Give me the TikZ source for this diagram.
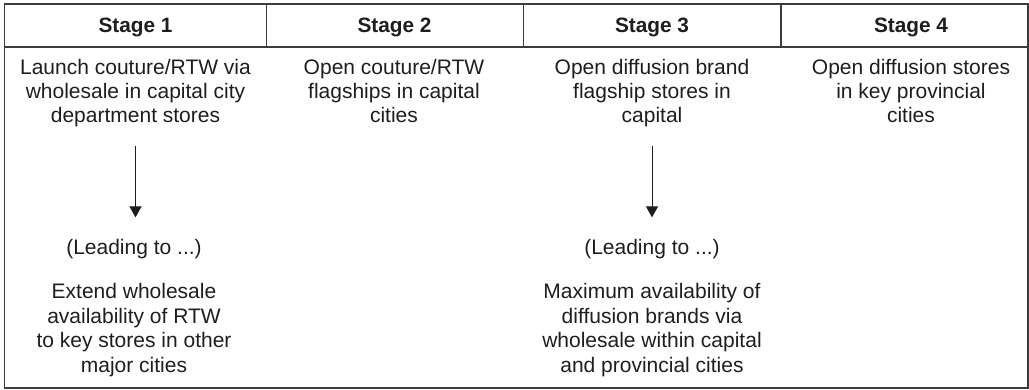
\documentclass[tikz,border=0pt]{standalone}
\usepackage{fontspec}
\setmainfont{Liberation Sans}
\usetikzlibrary{arrows.meta}
\definecolor{ink}{HTML}{1E1E1E}
\definecolor{rulegray}{HTML}{3C3C3C}
\begin{document}
\begin{tikzpicture}[x=0.5pt,y=-0.5pt,
  rule/.style={draw=rulegray,line width=0.65pt},
  head/.style={font=\fontsize{10.4}{12}\selectfont\bfseries,text=ink,anchor=base,inner sep=0pt},
  % multi-line nodes: the base anchor sits on the last line's baseline
  body/.style={font=\fontsize{10.5}{12.2}\selectfont,text=ink,align=center,anchor=base,inner sep=0pt},
  flow/.style={draw=ink,line width=0.5pt,-{Triangle[width=6pt,length=5.5pt]},
    shorten <=9.3pt,shorten >=11pt}]
\useasboundingbox (0,0) rectangle (1029,390);

% table frame, header rule and header column dividers
\draw[rule] (4.5,4) rectangle (1028,388);
\draw[rule] (4.5,47) -- (1028,47);
\foreach \x in {266.5,523.3,781} \draw[rule] (\x,4) -- (\x,47);

% header row
\node[head] (h1) at (135.5,33) {Stage 1};
\node[head] (h2) at (394.5,33) {Stage 2};
\node[head] (h3) at (652,33) {Stage 3};
\node[head] (h4) at (911,33) {Stage 4};

% stage descriptions
\node[body] (t1) at (135.5,123) {Launch couture/RTW via\\wholesale in capital city\\department stores};
\node[body] (t2) at (394,123) {Open couture/RTW\\flagships in capital\\cities};
\node[body] (t3) at (652,123) {Open diffusion brand\\flagship stores in\\capital};
\node[body] (t4) at (911,123) {Open diffusion stores\\in key provincial\\cities};

% consequences
\node[body] (l1) at (134,255) {(Leading to ...)};
\node[body] (r1) at (134,372) {Extend wholesale\\availability of RTW\\to key stores in other\\major cities};
\node[body] (l3) at (652,255) {(Leading to ...)};
\node[body] (r3) at (652,372) {Maximum availability of\\diffusion brands via\\wholesale within capital\\and provincial cities};

\draw[flow] (t1.south) -- (t1.south |- l1.north);
\draw[flow] (t3.south) -- (t3.south |- l3.north);
\end{tikzpicture}
\end{document}
